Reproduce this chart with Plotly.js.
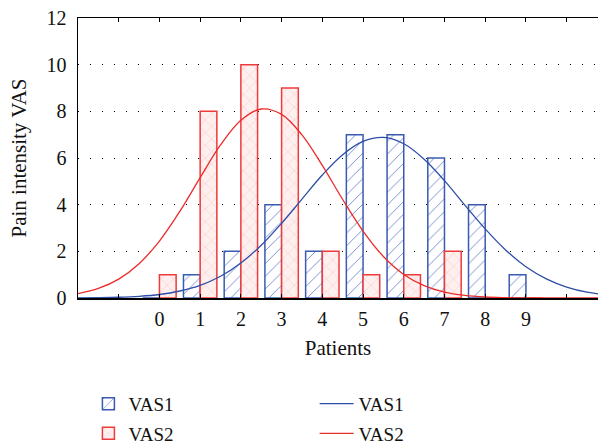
<!DOCTYPE html>
<html>
<head>
<meta charset="utf-8">
<script src="https://cdn.plot.ly/plotly-3.0.1.min.js"></script>
<style>html,body{margin:0;padding:0;background:#fff;}#chart{width:598px;height:448px;}</style>
</head>
<body>
<div id="chart"></div>
<script>
// Categories (patients) and bar heights
const patients = [0, 1, 2, 3, 4, 5, 6, 7, 8, 9];
const vas1 = [0, 1, 2, 4, 2, 7, 7, 6, 4, 1];
const vas2 = [1, 8, 10, 9, 2, 1, 1, 2, 0, 0];

// Fitted curves
const curveX = [-2, -1.5, -1, -0.5, 0, 0.5, 1, 1.5, 2, 2.5, 3, 3.5, 4, 4.5, 5, 5.5, 6, 6.5, 7, 7.5, 8, 8.5, 9, 9.5, 10, 10.5, 11];
const vas1Curve = [0.006, 0.014, 0.033, 0.073, 0.15, 0.30, 0.54, 0.93, 1.50, 2.26, 3.20, 4.24, 5.27, 6.14, 6.71, 6.88, 6.61, 5.95, 5.03, 3.98, 2.96, 2.06, 1.34, 0.82, 0.47, 0.25, 0.13];
const vas2Curve = [0.19, 0.41, 0.81, 1.47, 2.44, 3.71, 5.16, 6.56, 7.62, 8.10, 7.87, 6.99, 5.68, 4.22, 2.87, 1.78, 1.01, 0.53, 0.25, 0.11, 0.043, 0.016, 0.005, 0.001, 0, 0, 0];

// Tick labels
const tickVals = [-2, -1, 0, 1, 2, 3, 4, 5, 6, 7, 8, 9, 10];
const tickText = ['', '', '0', '1', '2', '3', '4', '5', '6', '7', '8', '9', ''];

const BLUE = '#3a5bb0';
const RED = '#ee3a3a';
const FONT = 'Liberation Serif, DejaVu Serif, serif';

const traces = [
  {
    type: 'bar', x: patients, y: vas1, name: 'VAS1',
    width: 0.41, offset: -0.41,
    marker: {
      color: 'white',
      line: {color: BLUE, width: 1.5},
      pattern: {shape: '/', fgcolor: '#6f88cc', bgcolor: 'white', size: 9, solidity: 0.1}
    },
    legend: 'legend', legendgroup: 'b1', showlegend: true
  },
  {
    type: 'bar', x: patients, y: vas2, name: 'VAS2',
    width: 0.41, offset: 0,
    marker: {
      color: '#fde8e8',
      line: {color: RED, width: 1.5},
      pattern: {shape: 'x', fgcolor: '#f8c4c4', bgcolor: '#fff0f0', size: 9, solidity: 0.12}
    },
    legend: 'legend', legendgroup: 'b2', showlegend: true
  },
  {
    type: 'scatter', mode: 'lines', x: curveX, y: vas1Curve, name: 'VAS1',
    line: {color: '#2d4ea8', width: 1.3, shape: 'spline'},
    legend: 'legend2', legendgroup: 'l1'
  },
  {
    type: 'scatter', mode: 'lines', x: curveX, y: vas2Curve, name: 'VAS2',
    line: {color: '#ec2b2b', width: 1.3, shape: 'spline'},
    legend: 'legend2', legendgroup: 'l2'
  }
];

const layout = {
  width: 598, height: 448,
  margin: {l: 78, r: 0, t: 18, b: 150, autoexpand: false},
  paper_bgcolor: 'white', plot_bgcolor: 'white',
  font: {family: FONT, size: 19, color: '#111'},
  barmode: 'overlay',
  xaxis: {
    range: [-2, 10.77],
    tickmode: 'array', tickvals: tickVals, ticktext: tickText,
    ticks: 'inside', ticklen: 4, tickcolor: '#000', tickwidth: 1,
    showline: true, linecolor: '#000', linewidth: 1.5, mirror: 'ticks',
    showgrid: false, zeroline: false,
    tickfont: {family: FONT, size: 20, color: '#111'},
    ticklabelstandoff: 2,
    title: {text: 'Patients', font: {family: FONT, size: 21, color: '#111'}, standoff: 12},
    automargin: false
  },
  yaxis: {
    range: [0, 12],
    tickvals: [0, 2, 4, 6, 8, 10, 12],
    ticks: '', showline: true, linecolor: '#000', linewidth: 1.5,
    showgrid: true, gridcolor: '#000', gridwidth: 1, griddash: '1px,11px',
    zeroline: false,
    tickfont: {family: FONT, size: 20, color: '#111'},
    ticklabelstandoff: 6,
    title: {text: 'Pain intensity VAS', font: {family: FONT, size: 21, color: '#111'}, standoff: 14},
    automargin: false
  },
  legend: {
    x: 0.02, y: -0.31, xanchor: 'left', yanchor: 'top',
    orientation: 'v', traceorder: 'grouped', tracegroupgap: 2,
    bgcolor: 'rgba(0,0,0,0)', font: {family: FONT, size: 19, color: '#111'}
  },
  legend2: {
    x: 0.455, y: -0.31, xanchor: 'left', yanchor: 'top',
    orientation: 'v', traceorder: 'grouped', tracegroupgap: 2, itemwidth: 34,
    bgcolor: 'rgba(0,0,0,0)', font: {family: FONT, size: 19, color: '#111'}
  }
};

Plotly.newPlot('chart', traces, layout, {displayModeBar: false, staticPlot: true});
</script>
</body>
</html>
